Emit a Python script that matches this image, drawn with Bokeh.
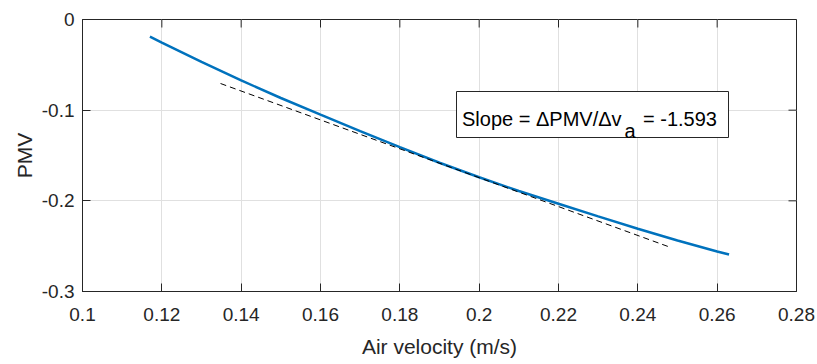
from bokeh.plotting import figure
from bokeh.models import Range1d, FixedTicker, Label, ColumnDataSource
from bokeh.embed import file_html
from bokeh.resources import INLINE

# ---- data ----
air_velocity = [0.117, 0.12, 0.13, 0.14, 0.15, 0.16, 0.17, 0.18, 0.19, 0.20,
                0.21, 0.22, 0.23, 0.24, 0.25, 0.26, 0.263]
pmv = [-0.0190, -0.0255, -0.0468, -0.0672, -0.0866, -0.1050, -0.1232, -0.1408,
       -0.1580, -0.1740, -0.1892, -0.2032, -0.2172, -0.2308, -0.2437, -0.2558, -0.2592]
tangent_x = [0.1348, 0.2484]
tangent_y = [-0.0706, -0.2516]
slope_value = "-1.593"

x_ticks = [0.1, 0.12, 0.14, 0.16, 0.18, 0.2, 0.22, 0.24, 0.26, 0.28]
x_tick_labels = ["0.1", "0.12", "0.14", "0.16", "0.18", "0.2", "0.22", "0.24", "0.26", "0.28"]
y_ticks = [-0.3, -0.2, -0.1, 0.0]
y_tick_labels = ["-0.3", "-0.2", "-0.1", "0"]

# ---- layout ----
W, H = 817, 364
BL, BR, BT, BB = 82, 21, 19, 73
X0, X1, Y0, Y1 = 0.1, 0.28, -0.3, 0.0
FW, FH = W - BL - BR, H - BT - BB
TICK = 8

def px_x(px):
    return X0 + (px - BL) / FW * (X1 - X0)

def px_y(py):
    return Y1 - (py - BT) / FH * (Y1 - Y0)

FONT = "Liberation Sans"
DARK = "#262626"

p = figure(width=W, height=H, output_backend="svg", toolbar_location=None,
           x_range=Range1d(X0, X1), y_range=Range1d(Y0, Y1),
           min_border_left=BL, min_border_right=BR, min_border_top=BT, min_border_bottom=BB)
p.outline_line_color = DARK
p.outline_line_width = 1
p.background_fill_color = "white"
p.border_fill_color = "white"

xt = FixedTicker(ticks=x_ticks, minor_ticks=[])
yt = FixedTicker(ticks=y_ticks, minor_ticks=[])

for ax, tk, lbls in ((p.xaxis[0], xt, x_tick_labels), (p.yaxis[0], yt, y_tick_labels)):
    ax.ticker = tk
    ax.major_label_overrides = {t: l for t, l in zip(tk.ticks, lbls)}
    ax.axis_line_color = DARK
    ax.major_tick_line_color = DARK
    ax.major_tick_in = TICK
    ax.major_tick_out = 0
    ax.minor_tick_line_color = None
    ax.major_label_text_font = FONT
    ax.major_label_text_font_size = "19px"
    ax.major_label_text_color = DARK
    ax.axis_label_text_font = FONT
    ax.axis_label_text_font_size = "21px"
    ax.axis_label_text_font_style = "normal"
    ax.axis_label_text_color = DARK

p.xaxis[0].axis_label = "Air velocity (m/s)"
p.xaxis[0].major_label_standoff = 16
p.xaxis[0].axis_label_standoff = 11
p.yaxis[0].axis_label = "PMV"
p.yaxis[0].major_label_standoff = 8
p.yaxis[0].axis_label_standoff = 3

# box ticks on top and right edges (inward), from the same tick arrays
tick_dx = (X1 - X0) / FW * TICK
tick_dy = (Y1 - Y0) / FH * TICK
p.segment(x0=x_ticks, x1=x_ticks, y0=[Y1] * len(x_ticks), y1=[Y1 - tick_dy] * len(x_ticks),
          line_color=DARK, line_width=1)
p.segment(x0=[X1] * len(y_ticks), x1=[X1 - tick_dx] * len(y_ticks), y0=y_ticks, y1=y_ticks,
          line_color=DARK, line_width=1)

for g in (p.xgrid[0], p.ygrid[0]):
    g.grid_line_color = "#e0e0e0"
    g.grid_line_width = 1
p.xgrid[0].ticker = xt
p.ygrid[0].ticker = yt

src = ColumnDataSource(dict(x=air_velocity, y=pmv))
p.line("x", "y", source=src, line_color="#0072BD", line_width=2.5)
p.line(tangent_x, tangent_y, line_color="black", line_width=1, line_dash="6 4")

# text box
p.quad(left=[px_x(456)], right=[px_x(728)], top=[px_y(91)], bottom=[px_y(137)],
       fill_color="white", line_color=DARK, line_width=1)

def lab(txt, px, py):
    p.add_layout(Label(x=px_x(px), y=px_y(py), text=txt, text_font=FONT,
                       text_font_size="20px", text_color="black",
                       text_baseline="alphabetic", text_align="left"))

lab("Slope = \u0394PMV/\u0394v", 461.5, 118.5)
lab("a", 624, 130)
lab("= " + slope_value, 642.5, 118.5)

open("out.html", "w").write(file_html(p, INLINE))
